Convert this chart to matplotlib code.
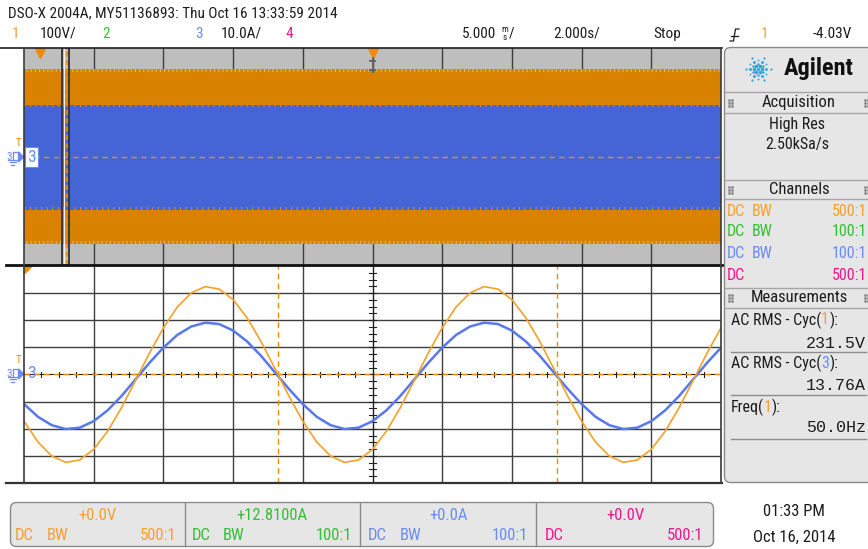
import matplotlib
matplotlib.use("Agg")
import matplotlib.pyplot as plt
from matplotlib import font_manager as fm
from matplotlib.patches import FancyBboxPatch, Polygon
import matplotlib.transforms as mtransforms
import math

# ---------------- values read from the screen ----------------
# zoom window (bottom), 5 ms/div
t_ms = list(range(-25, 26))
ch1_volts = [-172, -249, -301, -324, -315, -276, -209, -122, -22, 79,
             172, 249, 301, 324, 315, 276, 209, 122, 22, -79,
             -172, -249, -301, -324, -315, -276, -209, -122, -22, 79,
             172, 249, 301, 324, 315, 276, 209, 122, 22, -79,
             -172, -249, -301, -324, -315, -276, -209, -122, -22, 79,
             172]
ch3_amps = [-10.9, -15.6, -18.7, -20.1, -19.6, -17.2, -13.2, -7.9, -1.8, 4.3,
            9.9, 14.6, 17.7, 19.1, 18.6, 16.2, 12.2, 6.9, 0.8, -5.3,
            -10.9, -15.6, -18.7, -20.1, -19.6, -17.2, -13.2, -7.9, -1.8, 4.3,
            9.9, 14.6, 17.7, 19.1, 18.6, 16.2, 12.2, 6.9, 0.8, -5.3,
            -10.9, -15.6, -18.7, -20.1, -19.6, -17.2, -13.2, -7.9, -1.8, 4.3,
            9.9]
freq_cursor_ms = [-6.78, 13.22]

# main window (top), 2 s/div: envelope of the dense 50 Hz traces
main_t_s = [-10.0, 10.0]
ch1_env_hi = [322, 322]
ch1_env_lo = [-322, -322]
ch3_env_hi = [19.0, 19.0]
ch3_env_lo = [-19.6, -19.6]
zoom_window_s = [-8.90, -8.70]

# ---------------- fonts / colours ----------------
names = {f.name for f in fm.fontManager.ttflist}
FONT = 'DejaVu Sans'
for cand in ['Liberation Sans Narrow', 'Roboto Condensed', 'Lato', 'Roboto', 'Liberation Sans']:
    if cand in names:
        FONT = cand
        break
MONO = 'Liberation Mono' if 'Liberation Mono' in names else 'DejaVu Sans Mono'
plt.rcParams['font.family'] = [FONT, 'DejaVu Sans']
plt.rcParams['hatch.linewidth'] = 0.8

OR_T = '#f5a030'
GR_T = '#34c034'
BL_T = '#6a8cf0'
PK_T = '#f0168c'
OR_BAND = '#d98200'
BL_BAND = '#4565d6'
OR_TR = '#f5a028'
BL_TR = '#5878ee'
GRID = '#3e3e3e'
PANEL = '#e6e6e6'
TXT = '#1c1c1c'

W, H = 868, 549
fig = plt.figure(figsize=(W / 100, H / 100), dpi=100)
fig.patch.set_facecolor('white')


def frac(x0, y0, x1, y1):
    return [x0 / W, 1 - y1 / H, (x1 - x0) / W, (y1 - y0) / H]


bg = fig.add_axes([0, 0, 1, 1])
bg.set_xlim(0, W)
bg.set_ylim(H, 0)
bg.axis('off')

renderer = fig.canvas.get_renderer()


def multi(ax, x, y, parts, **kw):
    for s, c in parts:
        t = ax.text(x, y, s, color=c, **kw)
        bb = t.get_window_extent(renderer=renderer)
        x = bb.x1


# ---------------- header ----------------
bg.text(8, 13, "DSO-X 2004A, MY51136893: Thu Oct 16 13:33:59 2014", fontsize=11,
        va='center', ha='left', color=TXT)
hy = 34
kw = dict(fontsize=11, va='center', ha='left')
bg.text(12, hy, '1', color=OR_T, **kw)
bg.text(40, hy, '100V/', color=TXT, **kw)
bg.text(102, hy, '2', color=GR_T, **kw)
bg.text(195, hy, '3', color=BL_T, **kw)
bg.text(221, hy, '10.0A/', color=TXT, **kw)
bg.text(285, hy, '4', color=PK_T, **kw)
bg.text(462, hy, '5.000', color=TXT, **kw)
bg.text(501.5, hy - 4.5, 'm', color=TXT, fontsize=6.5, va='center', ha='left')
bg.text(502.5, hy + 3.5, 's', color=TXT, fontsize=6.5, va='center', ha='left')
bg.text(509, hy, '/', color=TXT, **kw)
bg.text(553, hy, '2.000s/', color=TXT, **kw)
bg.text(653, hy, 'Stop', color=TXT, **kw)
bg.plot([730, 733.5, 735.5, 739], [41, 41, 29, 29], color=TXT, lw=0.9)
bg.plot([731, 738], [35.5, 35.5], color=TXT, lw=0.9)
bg.text(761, hy, '1', color=OR_T, **kw)
bg.text(852, hy, '-4.03V', color=TXT, fontsize=11, va='center', ha='right')

# ---------------- right panel ----------------
bg.add_patch(FancyBboxPatch((724.5, 47.5), 170, 435, boxstyle='round,pad=0,rounding_size=6',
                            fc=PANEL, ec='#8a8a8a', lw=1.0))
LC = '#a6a6a6'
for yy in [92, 113, 180, 199, 288, 308]:
    bg.plot([725, 868], [yy, yy], color=LC, lw=1.0)
for yy in [352, 395, 439]:
    bg.plot([731, 866], [yy, yy], color='#8c8c8c', lw=1.0)
for yc in [102.5, 189.5, 298]:
    for xc in [729, 865]:
        for dx in [0, 2.5]:
            for dy in [-3, 0, 3]:
                bg.plot(xc + dx, yc + dy, 's', ms=0.9, color='#8a8a8a')

# Agilent logo
for k in range(12):
    a = math.radians(k * 30)
    radii = [4, 8, 12.5] if k % 2 == 0 else [5.5, 9.5]
    for j, r in enumerate(radii):
        ms = [2.6, 2.1, 1.6][j] if k % 2 == 0 else [1.8, 1.3][j]
        bg.plot(758 + r * math.cos(a), 69 + r * math.sin(a), 'o', ms=ms, color='#2ba6d8', mew=0)
bg.plot(758, 69, 'o', ms=2.2, color='#2ba6d8', mew=0)
bg.text(784, 69, 'Agilent', fontsize=17.5, fontweight='bold',
        va='center', ha='left', color='#111111')

bg.text(799, 102.5, 'Acquisition', fontsize=12, ha='center', va='center', color=TXT)
bg.text(797, 124, 'High Res', fontsize=11.5, ha='center', va='center', color=TXT)
bg.text(797, 145, '2.50kSa/s', fontsize=11.5, ha='center', va='center', color=TXT)
bg.text(799, 189.5, 'Channels', fontsize=12, ha='center', va='center', color=TXT)
rows = [(211, OR_T, True, '500:1'), (232, GR_T, True, '100:1'),
        (254, BL_T, True, '100:1'), (276, PK_T, False, '500:1')]
for yy, c, bw, ratio in rows:
    bg.text(727, yy, 'DC', fontsize=11.5, color=c, va='center', ha='left')
    if bw:
        bg.text(752, yy, 'BW', fontsize=11.5, color=c, va='center', ha='left')
    bg.text(867, yy, ratio, fontsize=11.5, color=c, va='center', ha='right')
bg.text(799, 298, 'Measurements', fontsize=12, ha='center', va='center', color=TXT)
mk = dict(fontsize=11.5, va='center', ha='left')
multi(bg, 731, 320, [('AC RMS - Cyc(', TXT), ('1', OR_T), ('):', TXT)], **mk)
bg.text(866, 343, '231.5V', family=MONO, fontsize=12, va='center', ha='right', color=TXT)
multi(bg, 731, 363, [('AC RMS - Cyc(', TXT), ('3', BL_T), ('):', TXT)], **mk)
bg.text(866, 385, '13.76A', family=MONO, fontsize=12, va='center', ha='right', color=TXT)
multi(bg, 731, 407, [('Freq(', TXT), ('1', OR_T), ('):', TXT)], **mk)
bg.text(866, 428, '50.0Hz', family=MONO, fontsize=12, va='center', ha='right', color=TXT)

# ---------------- bottom channel bar ----------------
bg.add_patch(FancyBboxPatch((10.5, 502.5), 703, 44, boxstyle='round,pad=0,rounding_size=6',
                            fc=PANEL, ec='#8a8a8a', lw=1.0))
for xx in [185, 360, 536]:
    bg.plot([xx, xx], [503, 546], color='#8a8a8a', lw=1.0)
bk = dict(fontsize=12, va='center')
bg.text(97, 515, '+0.0V', color=OR_T, ha='center', **bk)
bg.text(272, 515, '+12.8100A', color=GR_T, ha='center', **bk)
bg.text(449, 515, '+0.0A', color=BL_T, ha='center', **bk)
bg.text(625, 515, '+0.0V', color=PK_T, ha='center', **bk)
bar_rows = [(15, 47, 176, OR_T, True, '500:1'), (192, 223, 352, GR_T, True, '100:1'),
            (368, 400, 528, BL_T, True, '100:1'), (545, None, 703, PK_T, False, '500:1')]
for xdc, xbw, xr, c, bw, ratio in bar_rows:
    bg.text(xdc, 536, 'DC', color=c, ha='left', **bk)
    if bw:
        bg.text(xbw, 536, 'BW', color=c, ha='left', **bk)
    bg.text(xr, 536, ratio, color=c, ha='right', **bk)
bg.text(794, 512, '01:33 PM', fontsize=12, ha='center', va='center', color=TXT)
bg.text(794, 537, 'Oct 16, 2014', fontsize=12, ha='center', va='center', color=TXT)

# ---------------- top (main) window ----------------
ax_t = fig.add_axes(frac(24, 48, 721, 265))
ax_t.set_facecolor('#bebebe')
ax_t.set_xlim(-10, 10)
ax_t.set_ylim(-400, 400)
ax_t.set_xticks([]); ax_t.set_yticks([])
for x in range(-8, 10, 2):
    ax_t.axvline(x, color=GRID, lw=1.0, zorder=1)
ax_t.fill_between(main_t_s, ch1_env_lo, ch1_env_hi, color=OR_BAND, lw=0, zorder=2)
# ragged envelope edge of the dense trace
ax_t.fill_between(main_t_s, [v - 10 for v in ch1_env_hi], ch1_env_hi, fc='none',
                  ec='#e4b36c', hatch='||||', lw=0, zorder=2.5)
ax_t.fill_between(main_t_s, ch1_env_lo, [v + 10 for v in ch1_env_lo], fc='none',
                  ec='#e4b36c', hatch='||||', lw=0, zorder=2.5)
ax_ti = ax_t.twinx()
ax_ti.set_ylim(-40, 40)
ax_ti.set_yticks([])
ax_ti.fill_between(main_t_s, ch3_env_lo, ch3_env_hi, color=BL_BAND, lw=0, zorder=2)
ax_ti.fill_between(main_t_s, [v - 0.9 for v in ch3_env_hi], ch3_env_hi, fc='none',
                   ec='#c98a3a', hatch='|||', lw=0, zorder=2.5)
ax_ti.fill_between(main_t_s, ch3_env_lo, [v + 0.9 for v in ch3_env_lo], fc='none',
                   ec='#c98a3a', hatch='|||', lw=0, zorder=2.5)
ax_ti.axhline(0, color='#f08a00', lw=1.0, ls=(0, (4, 3)), zorder=3)
ax_ti.axvspan(zoom_window_s[0], zoom_window_s[1], fc='none', ec='#3a3a3a', lw=1.4, zorder=5)
zc = 0.5 * (zoom_window_s[0] + zoom_window_s[1])
ax_ti.axvline(zc - 0.06, color='#f0f0f0', lw=0.9, zorder=5)
ax_ti.axvline(zc + 0.03, color='#f08a00', lw=1.2, ls=(0, (3, 2)), zorder=6)
for ax in (ax_t, ax_ti):
    for s in ax.spines.values():
        s.set_visible(False)
trans_t = mtransforms.blended_transform_factory(ax_ti.transData, ax_ti.transAxes)
ax_ti.plot([0], [0.975], marker='v', ms=7, color='#f08a00', transform=trans_t, clip_on=False, zorder=7)
ax_ti.plot([0, 0], [0.89, 0.955], color='#606060', lw=1.3, transform=trans_t, zorder=7)
ax_ti.plot([-0.07, 0.07], [0.90, 0.90], color='#606060', lw=1.3, transform=trans_t, zorder=7)
ax_ti.plot([-0.07, 0.07], [0.94, 0.94], color='#606060', lw=1.3, transform=trans_t, zorder=7)
ax_ti.plot([-9.55], [0.975], marker='v', ms=7, color='#f08a00', transform=trans_t, clip_on=False, zorder=7)

# ---------------- bottom (zoom) window ----------------
ax_b = fig.add_axes(frac(24, 266, 721, 483))
ax_b.set_facecolor('white')
ax_b.set_xlim(-25, 25)
ax_b.set_ylim(-400, 400)
ax_b.set_xticks([]); ax_b.set_yticks([])
for x in [-20, -15, -10, -5, 5, 10, 15, 20]:
    ax_b.axvline(x, color=GRID, lw=1.0, zorder=1)
for y in [-300, -200, -100, 100, 200, 300]:
    ax_b.axhline(y, color=GRID, lw=1.0, zorder=1)
ax_b.axhline(0, color='#202020', lw=0.8, zorder=1)
ax_b.axvline(0, color='#202020', lw=1.0, zorder=1)
for k in range(-19, 20):
    x = k * 1.25
    ax_b.plot([x, x], [-10, 10], color='#202020', lw=0.8, zorder=1)
for k in range(-15, 16):
    y = k * 25
    ax_b.plot([-0.22, 0.22], [y, y], color='#202020', lw=0.8, zorder=1)
ax_b.axhline(0, color='#f08a00', lw=1.0, ls=(0, (4, 3)), zorder=2)
for xc in freq_cursor_ms:
    ax_b.axvline(xc, color='#f08a00', lw=1.0, ls=(0, (4, 3)), zorder=2)
ax_bi = ax_b.twinx()
ax_bi.set_ylim(-40, 40)
ax_bi.set_yticks([])
ax_bi.plot(t_ms, ch3_amps, color=BL_TR, lw=1.8, zorder=3)
ax_bi.plot(t_ms, ch1_volts, color=OR_TR, lw=1.2, zorder=4, transform=ax_b.transData)
for ax in (ax_b, ax_bi):
    for s in ax.spines.values():
        s.set_visible(False)
ax_bi.add_patch(Polygon([(0, 1), (0.012, 1), (0, 0.962)], closed=True, color='#f08a00',
                        transform=ax_bi.transAxes, clip_on=False, zorder=8))

# ---------------- overlay (borders, ground markers) ----------------
fg = fig.add_axes([0, 0, 1, 1])
fg.set_xlim(0, W)
fg.set_ylim(H, 0)
fg.axis('off')
fg.patch.set_alpha(0)
fg.plot([0, 722], [47.5, 47.5], color='#202020', lw=1.2)
fg.plot([6, 722], [265, 265], color='#111111', lw=2.0)
fg.plot([6, 722], [482.5, 482.5], color='#333333', lw=1.6)
fg.plot([24, 24], [47.5, 483], color='#3a3a3a', lw=1.2)
fg.plot([721, 721], [47.5, 483], color='#3a3a3a', lw=1.2)


def ground(y, boxed):
    fg.text(6, y, '3', color=BL_T, fontsize=8, va='center', ha='left')
    fg.plot([12.5, 12.5], [y - 5, y + 3], color=BL_T, lw=0.9)
    for i, w in enumerate([4.5, 3, 1.5]):
        fg.plot([12.5 - w, 12.5 + w], [y + 3 + 2.3 * i, y + 3 + 2.3 * i], color=BL_T, lw=0.9)
    fg.plot([12.5, 18], [y - 5, y - 5], color=BL_T, lw=0.9)
    fg.text(18.5, y - 14, 'T', color='#f08a00', fontsize=8, va='center', ha='center')
    fg.add_patch(Polygon([(18.5, y - 5), (18.5, y + 5), (23.5, y)], closed=True, color=BL_T))
    if boxed:
        fg.add_patch(FancyBboxPatch((24.5, y - 10), 13, 20, boxstyle='square,pad=0',
                                    fc='white', ec=BL_T, lw=0.8))
    fg.text(31, y, '3', color=BL_T, fontsize=12.5, va='center', ha='center')


ground(157, True)
ground(374, False)

fig.savefig('out.png', dpi=100, facecolor='white')
